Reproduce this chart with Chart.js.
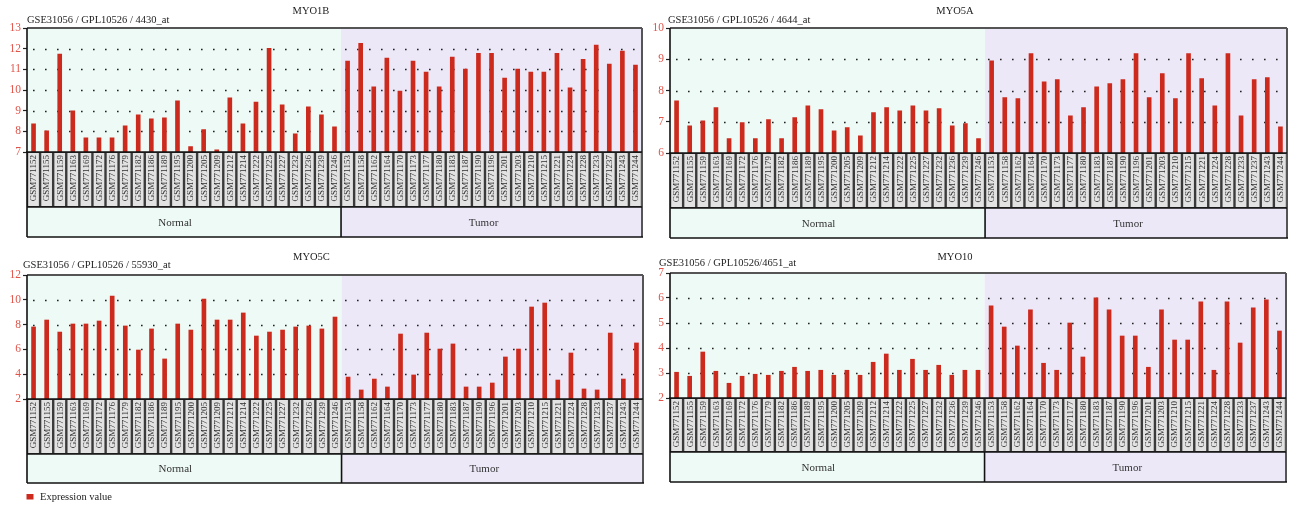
<!DOCTYPE html>
<html><head><meta charset="utf-8">
<script src="https://cdn.jsdelivr.net/npm/chart.js@4.4.0/dist/chart.umd.min.js"></script>
<style>
html,body{margin:0;padding:0;background:#fff;width:1297px;height:507px;overflow:hidden;}
.p{position:absolute;}
canvas{display:block;}
</style></head><body>
<div class="p" style="left:0px;top:0px;width:648px;height:245px"><canvas id="c1"></canvas></div>
<div class="p" style="left:648px;top:0px;width:649px;height:245px"><canvas id="c2"></canvas></div>
<div class="p" style="left:0px;top:245px;width:648px;height:262px"><canvas id="c3"></canvas></div>
<div class="p" style="left:648px;top:245px;width:649px;height:262px"><canvas id="c4"></canvas></div>
<script>
// ---------------- data ----------------
const normalSamples = ["GSM771152","GSM771155","GSM771159","GSM771163","GSM771169","GSM771172","GSM771176","GSM771179","GSM771182","GSM771186","GSM771189","GSM771195","GSM771200","GSM771205","GSM771209","GSM771212","GSM771214","GSM771222","GSM771225","GSM771227","GSM771232","GSM771236","GSM771239","GSM771246"];
const tumorSamples = ["GSM771153","GSM771158","GSM771162","GSM771164","GSM771170","GSM771173","GSM771177","GSM771180","GSM771183","GSM771187","GSM771190","GSM771196","GSM771201","GSM771203","GSM771210","GSM771215","GSM771221","GSM771224","GSM771228","GSM771233","GSM771237","GSM771243","GSM771244"];
const groupNames = ["Normal","Tumor"];
const seriesName = "Expression value";

const myo1bNormal = [8.36,8.03,11.74,8.99,7.69,7.69,7.69,8.27,8.80,8.61,8.65,9.47,7.26,8.08,7.11,9.62,8.36,9.42,12.02,9.28,7.88,9.18,8.80,8.22];
const myo1bTumor  = [11.40,12.26,10.15,11.54,9.95,11.40,10.87,10.15,11.59,11.01,11.78,11.78,10.58,11.01,10.87,10.87,11.78,10.10,11.49,12.17,11.25,11.88,11.21];

const myo5aNormal = [7.67,6.87,7.03,7.45,6.46,6.97,6.46,7.07,6.46,7.13,7.51,7.39,6.71,6.81,6.55,7.29,7.45,7.35,7.51,7.35,7.42,6.87,6.94,6.46];
const myo5aTumor  = [8.95,7.77,7.74,9.18,8.28,8.35,7.19,7.45,8.12,8.22,8.35,9.18,7.77,8.54,7.74,9.18,8.38,7.51,9.18,7.19,8.35,8.41,6.84];

const myo5cNormal = [7.81,8.37,7.40,8.05,8.05,8.29,10.31,7.89,5.95,7.65,5.23,8.05,7.56,10.06,8.37,8.37,8.94,7.08,7.40,7.56,7.81,7.89,7.65,8.61];
const myo5cTumor  = [3.77,2.73,3.61,2.97,7.24,3.94,7.32,6.03,6.44,2.97,2.97,3.29,5.39,6.03,9.42,9.74,3.53,5.71,2.81,2.73,7.32,3.61,6.52];

const myo10Normal = [3.03,2.87,3.84,3.07,2.59,2.87,2.95,2.91,3.07,3.23,3.07,3.11,2.91,3.11,2.91,3.43,3.76,3.11,3.55,3.11,3.31,2.91,3.11,3.11];
const myo10Tumor  = [5.69,4.84,4.08,5.53,3.39,3.11,5.00,3.64,6.01,5.53,4.48,4.48,3.23,5.53,4.32,4.32,5.85,3.11,5.85,4.20,5.61,5.93,4.68];

const geneNames = ["MYO1B","MYO5A","MYO5C","MYO10"];
const probeTitles = ["GSE31056 / GPL10526 / 4430_at","GSE31056 / GPL10526 / 4644_at","GSE31056 / GPL10526 / 55930_at","GSE31056 / GPL10526/4651_at"];
const yMin = [7,6,2,2];
const yMax = [13,10,12,7];
const yStep = [1,1,2,1];

// ---------------- style ----------------
const SERIF = "'Liberation Serif','DejaVu Serif',serif";
const MINT = '#edfaf5';
const LAV = '#ece8f8';
const BAR = '#cd2a1e';
const TICKRED = '#e0544a';

const categories = normalSamples.concat(tumorSamples);
const allValues = [
  myo1bNormal.concat(myo1bTumor),
  myo5aNormal.concat(myo5aTumor),
  myo5cNormal.concat(myo5cTumor),
  myo10Normal.concat(myo10Tumor)
];

const layouts = [
  {yW:27, pad:{left:0,right:6,top:28,bottom:93}, titleX:311, titleY:11, subX:27, subY:20.5, labelH:55, groupH:30, legend:false},
  {yW:22, pad:{left:0,right:10,top:28,bottom:92}, titleX:307, titleY:11, subX:20, subY:20.5, labelH:55, groupH:30, legend:false},
  {yW:27, pad:{left:0,right:5,top:30,bottom:108}, titleX:311.5, titleY:12.5, subX:23, subY:20.5, labelH:55, groupH:29, legend:true},
  {yW:22, pad:{left:0,right:11,top:28,bottom:109}, titleX:307, titleY:12.5, subX:11, subY:18.5, labelH:54, groupH:30, legend:false}
];

const panelPlugin = {
  id: 'panel',
  beforeDraw(chart, args, o) {
    const {ctx, chartArea: a, scales: {x}} = chart;
    const nN = normalSamples.length;
    const split = (x.getPixelForValue(nN - 1) + x.getPixelForValue(nN)) / 2;
    const lb = a.bottom + o.labelH, gb = lb + o.groupH;
    ctx.save();
    ctx.fillStyle = MINT;
    ctx.fillRect(a.left, a.top, split - a.left, a.bottom - a.top);
    ctx.fillRect(a.left, lb, split - a.left, gb - lb);
    ctx.fillStyle = LAV;
    ctx.fillRect(split, a.top, a.right - split, a.bottom - a.top);
    ctx.fillRect(split, lb, a.right - split, gb - lb);
    // sample label boxes
    const half = (x.getPixelForValue(1) - x.getPixelForValue(0)) / 2;
    ctx.fillStyle = '#3a3a3a';
    ctx.fillRect(a.left, a.bottom, a.right - a.left, o.labelH);
    for (let i = 0; i < categories.length; i++) {
      const cx = x.getPixelForValue(i);
      ctx.fillStyle = '#e2e2e2';
      ctx.fillRect(cx - half + 1.2, a.bottom + 1, 2 * half - 2.4, o.labelH - 2);
    }
    ctx.restore();
  },
  beforeDatasetsDraw(chart, args, o) {
    const {ctx, chartArea: a, scales: {y}} = chart;
    ctx.save();
    ctx.strokeStyle = '#222';
    ctx.lineWidth = 1.3;
    ctx.setLineDash([1.6, 10.4]);
    y.ticks.forEach(t => {
      if (t.value <= y.min || t.value >= y.max) return;
      const py = Math.round(y.getPixelForValue(t.value)) + 0.5;
      ctx.beginPath();
      ctx.lineDashOffset = -6;
      ctx.moveTo(a.left, py);
      ctx.lineTo(a.right, py);
      ctx.stroke();
    });
    ctx.restore();
  },
  afterDraw(chart, args, o) {
    const {ctx, chartArea: a, scales: {x}} = chart;
    const nN = normalSamples.length;
    const split = (x.getPixelForValue(nN - 1) + x.getPixelForValue(nN)) / 2;
    const lb = a.bottom + o.labelH, gb = lb + o.groupH;
    ctx.save();
    // sample labels
    ctx.fillStyle = '#2e2e2e';
    ctx.font = "9px " + SERIF;
    ctx.textAlign = 'right';
    ctx.textBaseline = 'middle';
    categories.forEach((c, i) => {
      const cx = x.getPixelForValue(i);
      ctx.save();
      ctx.translate(cx + 0.5, a.bottom + 3);
      ctx.rotate(-Math.PI / 2);
      ctx.fillText(c, 0, 0);
      ctx.restore();
    });
    // frame
    ctx.strokeStyle = '#555';
    ctx.lineWidth = 2;
    ctx.beginPath(); ctx.moveTo(a.left, a.top); ctx.lineTo(a.right, a.top); ctx.stroke();
    ctx.beginPath(); ctx.moveTo(a.right, a.top); ctx.lineTo(a.right, gb); ctx.stroke();
    ctx.strokeStyle = '#111';
    ctx.lineWidth = 1.6;
    ctx.beginPath(); ctx.moveTo(a.left, a.top); ctx.lineTo(a.left, gb); ctx.stroke();
    ctx.beginPath(); ctx.moveTo(a.left - 1, a.bottom); ctx.lineTo(a.right, a.bottom); ctx.stroke();
    ctx.beginPath(); ctx.moveTo(a.left, lb); ctx.lineTo(a.right, lb); ctx.stroke();
    ctx.beginPath(); ctx.moveTo(a.left, gb); ctx.lineTo(a.right + 1, gb); ctx.stroke();
    ctx.beginPath(); ctx.moveTo(split, lb); ctx.lineTo(split, gb); ctx.stroke();
    // group labels
    ctx.fillStyle = '#333';
    ctx.font = "11px " + SERIF;
    ctx.textAlign = 'center';
    ctx.textBaseline = 'middle';
    ctx.fillText(groupNames[0], (a.left + split) / 2 - 9, (lb + gb) / 2 + 1);
    ctx.fillText(groupNames[1], (split + a.right) / 2 - 8, (lb + gb) / 2 + 1);
    // titles
    ctx.fillStyle = '#222';
    ctx.font = "10.5px " + SERIF;
    ctx.textAlign = 'center';
    ctx.fillText(o.title, o.titleX, o.titleY);
    ctx.textAlign = 'left';
    ctx.fillText(o.subtitle, o.subX, o.subY);
    // legend
    if (o.legend) {
      ctx.fillStyle = BAR;
      ctx.fillRect(26.5, 249, 7, 5.5);
      ctx.fillStyle = '#222';
      ctx.font = "10.5px " + SERIF;
      ctx.textAlign = 'left';
      ctx.fillText(chart.data.datasets[0].label, 40, 252);
    }
    ctx.restore();
  }
};

for (let k = 0; k < 4; k++) {
  const L = layouts[k];
  new Chart(document.getElementById('c' + (k + 1)), {
    type: 'bar',
    data: {
      labels: categories,
      datasets: [{label: seriesName, data: allValues[k], backgroundColor: BAR, barThickness: 4, borderWidth: 0}]
    },
    options: {
      responsive: true,
      maintainAspectRatio: false,
      animation: false,
      devicePixelRatio: 1,
      layout: {padding: L.pad},
      plugins: {
        legend: {display: false},
        tooltip: {enabled: false},
        title: {display: false},
        panel: {title: geneNames[k], subtitle: probeTitles[k], titleX: L.titleX, titleY: L.titleY,
                subX: L.subX, subY: L.subY, labelH: L.labelH, groupH: L.groupH, legend: L.legend}
      },
      scales: {
        x: {type: 'category', display: false, offset: true},
        y: {
          min: yMin[k], max: yMax[k],
          afterFit(s) { s.width = L.yW; },
          ticks: {stepSize: yStep[k], color: TICKRED, padding: 2, font: {family: SERIF, size: 11.5}},
          grid: {display: true, drawOnChartArea: false, drawTicks: true, tickLength: 4, tickColor: '#222', tickWidth: 1.2},
          border: {display: false}
        }
      }
    },
    plugins: [panelPlugin]
  });
}
</script>
</body></html>
